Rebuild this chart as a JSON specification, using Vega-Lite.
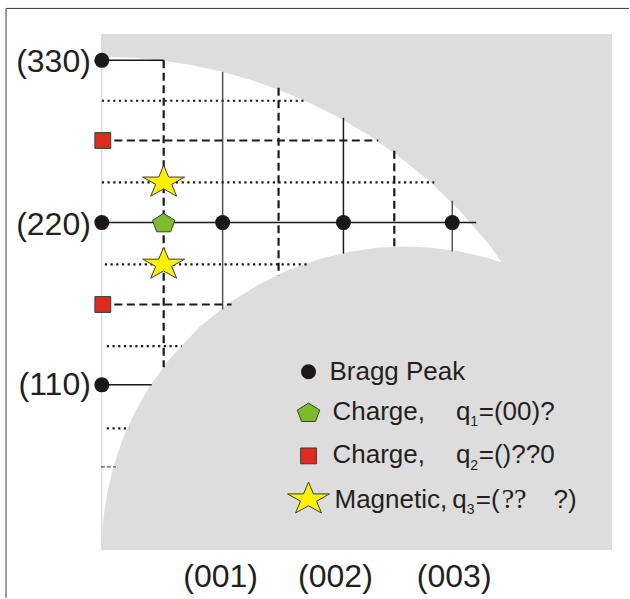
{
  "$schema": "https://vega.github.io/schema/vega-lite/v6.json",
  "width": 630,
  "height": 599,
  "autosize": {"type": "fit", "contains": "padding"},
  "padding": 0,
  "background": "white",
  "config": {"view": {"stroke": null}},
  "datasets": {
    "panel": [{"L": 0, "L2": 4.223, "H": -0.018, "H2": 3.163}],
    "outer": [
      {"L": 0, "H": 3.022}, {"L": 0.231, "H": 3.017}, {"L": 0.479, "H": 3.001}, {"L": 0.727, "H": 2.973},
      {"L": 0.975, "H": 2.934}, {"L": 1.223, "H": 2.882}, {"L": 1.471, "H": 2.817}, {"L": 1.719, "H": 2.739},
      {"L": 1.967, "H": 2.646}, {"L": 2.215, "H": 2.535}, {"L": 2.463, "H": 2.406}, {"L": 2.711, "H": 2.255},
      {"L": 2.959, "H": 2.076}, {"L": 3.207, "H": 1.863}, {"L": 3.455, "H": 1.602}, {"L": 3.702, "H": 1.263}
    ],
    "inner": [
      {"L": 0, "H": -0.018}, {"L": 0.008, "H": 0.133}, {"L": 0.025, "H": 0.244}, {"L": 0.05, "H": 0.351},
      {"L": 0.083, "H": 0.457}, {"L": 0.132, "H": 0.58}, {"L": 0.198, "H": 0.71}, {"L": 0.281, "H": 0.841},
      {"L": 0.397, "H": 0.991}, {"L": 0.562, "H": 1.161}, {"L": 0.81, "H": 1.358}, {"L": 1.058, "H": 1.507},
      {"L": 1.306, "H": 1.622}, {"L": 1.554, "H": 1.711}, {"L": 1.802, "H": 1.776}, {"L": 2.05, "H": 1.82},
      {"L": 2.298, "H": 1.846}, {"L": 2.512, "H": 1.852}, {"L": 2.711, "H": 1.847}, {"L": 2.959, "H": 1.823},
      {"L": 3.207, "H": 1.78}, {"L": 3.455, "H": 1.716}, {"L": 3.702, "H": 1.629}, {"L": 3.95, "H": 1.516},
      {"L": 4.223, "H": 1.351}
    ],
    "lines": [
      {"kind": "frame", "L": -0.793, "H": 3.32, "L2": 4.364, "H2": 3.32},
      {"kind": "frame", "L": -0.793, "H": 3.32, "L2": -0.793, "H2": -0.314},
      {"kind": "edge", "L": 0, "H": 3.163, "L2": 0, "H2": -0.018},
      {"kind": "solid", "L": 0, "H": 3.0, "L2": 0.512, "H2": 3.0},
      {"kind": "solid", "L": 0, "H": 2.0, "L2": 3.099, "H2": 2.0},
      {"kind": "solid", "L": 0, "H": 1.0, "L2": 0.413, "H2": 1.0},
      {"kind": "solid", "L": 2.0, "H": 2.646, "L2": 2.0, "H2": 1.809},
      {"kind": "solidGray", "L": 1.0, "H": 2.929, "L2": 1.0, "H2": 1.465},
      {"kind": "solidGray", "L": 2.901, "H": 2.135, "L2": 2.901, "H2": 1.822},
      {"kind": "dashed", "L": 0, "H": 2.506, "L2": 2.289, "H2": 2.506},
      {"kind": "dashed", "L": 0, "H": 1.495, "L2": 1.074, "H2": 1.495},
      {"kind": "dashed", "L": 0.512, "H": 3.0, "L2": 0.512, "H2": 1.108},
      {"kind": "dashed", "L": 1.463, "H": 2.831, "L2": 1.463, "H2": 1.674},
      {"kind": "dashed", "L": 2.421, "H": 2.443, "L2": 2.421, "H2": 1.846},
      {"kind": "dotted", "L": 0, "H": 2.751, "L2": 1.694, "H2": 2.751},
      {"kind": "dotted", "L": 0, "H": 2.248, "L2": 2.752, "H2": 2.248},
      {"kind": "dotted", "L": 0.025, "H": 1.742, "L2": 1.711, "H2": 1.742},
      {"kind": "dotted", "L": 0.041, "H": 1.239, "L2": 0.661, "H2": 1.239},
      {"kind": "dotted", "L": 0.041, "H": 0.732, "L2": 0.231, "H2": 0.732},
      {"kind": "fine", "L": -0.008, "H": 0.494, "L2": 0.116, "H2": 0.494}
    ],
    "markers": [
      {"kind": "Bragg", "L": 0, "H": 3.0},
      {"kind": "Bragg", "L": 0, "H": 2.0},
      {"kind": "Bragg", "L": 1.0, "H": 2.0},
      {"kind": "Bragg", "L": 2.0, "H": 2.0},
      {"kind": "Bragg", "L": 2.901, "H": 2.0},
      {"kind": "Bragg", "L": 0, "H": 1.0},
      {"kind": "Charge1", "L": 0.512, "H": 2.0},
      {"kind": "Charge2", "L": 0.008, "H": 2.506},
      {"kind": "Charge2", "L": 0.008, "H": 1.495},
      {"kind": "Magnetic", "L": 0.512, "H": 2.248},
      {"kind": "Magnetic", "L": 0.512, "H": 1.742},
      {"kind": "Bragg", "L": 1.711, "H": 1.081},
      {"kind": "Charge1", "L": 1.711, "H": 0.831},
      {"kind": "Charge2", "L": 1.711, "H": 0.562},
      {"kind": "Magnetic", "L": 1.711, "H": 0.295}
    ],
    "texts": [
      {"kind": "tickY", "text": "(330)", "L": -0.091, "H": 2.99},
      {"kind": "tickY", "text": "(220)", "L": -0.091, "H": 1.985},
      {"kind": "tickY", "text": "(110)", "L": -0.091, "H": 0.997},
      {"kind": "tickX", "text": "(001)", "L": 0.983, "H": -0.185},
      {"kind": "tickX", "text": "(002)", "L": 1.934, "H": -0.185},
      {"kind": "tickX", "text": "(003)", "L": 2.917, "H": -0.185},
      {"kind": "legend", "text": "Bragg Peak", "L": 1.884, "H": 1.077},
      {"kind": "legend", "text": "Charge,", "L": 1.909, "H": 0.834},
      {"kind": "legend", "text": "q", "L": 2.931, "H": 0.834},
      {"kind": "legend", "text": "=(00)?", "L": 3.12, "H": 0.834},
      {"kind": "legend", "text": "Charge,", "L": 1.909, "H": 0.566},
      {"kind": "legend", "text": "q", "L": 2.931, "H": 0.566},
      {"kind": "legend", "text": "=()??0", "L": 3.12, "H": 0.566},
      {"kind": "legend", "text": "Magnetic,", "L": 1.926, "H": 0.29},
      {"kind": "legend", "text": "q", "L": 2.9, "H": 0.29},
      {"kind": "legend", "text": "=(", "L": 3.095, "H": 0.29},
      {"kind": "legend", "text": "?)", "L": 3.74, "H": 0.29},
      {"kind": "serif", "text": "??", "L": 3.31, "H": 0.29},
      {"kind": "sub", "text": "1", "L": 3.05, "H": 0.77},
      {"kind": "sub", "text": "2", "L": 3.05, "H": 0.502},
      {"kind": "sub", "text": "3", "L": 3.02, "H": 0.226}
    ]
  },
  "encoding": {
    "x": {"field": "L", "type": "quantitative", "scale": {"domain": [-0.843, 4.364], "nice": false, "zero": false}, "axis": null},
    "y": {"field": "H", "type": "quantitative", "scale": {"domain": [-0.314, 3.372], "nice": false, "zero": false}, "axis": null}
  },
  "layer": [
    {
      "data": {"name": "panel"},
      "mark": {"type": "rect", "fill": "#dddddd"},
      "encoding": {"x2": {"field": "L2"}, "y2": {"field": "H2"}}
    },
    {
      "data": {"name": "outer"},
      "mark": {"type": "area", "fill": "#ffffff", "interpolate": "linear"},
      "encoding": {"y2": {"datum": -0.018}}
    },
    {
      "data": {"name": "inner"},
      "mark": {"type": "area", "fill": "#dddddd", "interpolate": "linear"},
      "encoding": {"y2": {"datum": -0.018}}
    },
    {
      "data": {"name": "lines"},
      "transform": [{"filter": "datum.kind === 'frame'"}],
      "mark": {"type": "rule", "stroke": "#3a3a3a", "strokeWidth": 1},
      "encoding": {"x2": {"field": "L2"}, "y2": {"field": "H2"}}
    },
    {
      "data": {"name": "lines"},
      "transform": [{"filter": "datum.kind === 'edge'"}],
      "mark": {"type": "rule", "stroke": "#d0d0d0", "strokeWidth": 1},
      "encoding": {"x2": {"field": "L2"}, "y2": {"field": "H2"}}
    },
    {
      "data": {"name": "lines"},
      "transform": [{"filter": "datum.kind === 'solid'"}],
      "mark": {"type": "rule", "stroke": "#1a1a1a", "strokeWidth": 1.5},
      "encoding": {"x2": {"field": "L2"}, "y2": {"field": "H2"}}
    },
    {
      "data": {"name": "lines"},
      "transform": [{"filter": "datum.kind === 'solidGray'"}],
      "mark": {"type": "rule", "stroke": "#555555", "strokeWidth": 1.5},
      "encoding": {"x2": {"field": "L2"}, "y2": {"field": "H2"}}
    },
    {
      "data": {"name": "lines"},
      "transform": [{"filter": "datum.kind === 'dashed'"}],
      "mark": {"type": "rule", "stroke": "#1a1a1a", "strokeWidth": 2.2, "strokeDash": [8, 4.5], "strokeCap": "butt"},
      "encoding": {"x2": {"field": "L2"}, "y2": {"field": "H2"}}
    },
    {
      "data": {"name": "lines"},
      "transform": [{"filter": "datum.kind === 'dotted'"}],
      "mark": {"type": "rule", "stroke": "#1a1a1a", "strokeWidth": 2.2, "strokeDash": [2.2, 3.5], "strokeCap": "butt"},
      "encoding": {"x2": {"field": "L2"}, "y2": {"field": "H2"}}
    },
    {
      "data": {"name": "lines"},
      "transform": [{"filter": "datum.kind === 'fine'"}],
      "mark": {"type": "rule", "stroke": "#333333", "strokeWidth": 1, "strokeDash": [4, 2], "strokeCap": "butt"},
      "encoding": {"x2": {"field": "L2"}, "y2": {"field": "H2"}}
    },
    {
      "data": {"name": "markers"},
      "transform": [{"filter": "datum.kind === 'Bragg'"}],
      "mark": {"type": "point", "shape": "circle", "size": 225, "filled": true, "opacity": 1, "fill": "#1c1819", "strokeWidth": 0}
    },
    {
      "data": {"name": "markers"},
      "transform": [{"filter": "datum.kind === 'Charge1'"}],
      "mark": {"type": "point", "shape": "M0,-0.78L0.951,-0.18L0.588,0.78L-0.588,0.78L-0.951,-0.18Z", "size": 560, "filled": true, "opacity": 1, "fill": "#7cbb2c", "stroke": "#3c3c3c", "strokeWidth": 1}
    },
    {
      "data": {"name": "markers"},
      "transform": [{"filter": "datum.kind === 'Charge2'"}],
      "mark": {"type": "point", "shape": "square", "size": 250, "filled": true, "opacity": 1, "fill": "#dc2b1f", "stroke": "#3c3c3c", "strokeWidth": 1}
    },
    {
      "data": {"name": "markers"},
      "transform": [{"filter": "datum.kind === 'Magnetic'"}],
      "mark": {"type": "point", "shape": "M0,-0.774L0.225,-0.239L0.951,-0.239L0.363,0.091L0.588,0.626L0,0.296L-0.588,0.626L-0.363,0.091L-0.951,-0.239L-0.225,-0.239Z", "size": 1950, "filled": true, "opacity": 1, "fill": "#fff200", "stroke": "#3c3c3c", "strokeWidth": 1}
    },
    {
      "data": {"name": "texts"},
      "transform": [{"filter": "datum.kind === 'tickY'"}],
      "mark": {"type": "text", "align": "right", "baseline": "middle", "font": "Liberation Sans", "fontSize": 32, "color": "#231f20"},
      "encoding": {"text": {"field": "text"}}
    },
    {
      "data": {"name": "texts"},
      "transform": [{"filter": "datum.kind === 'tickX'"}],
      "mark": {"type": "text", "align": "center", "baseline": "middle", "font": "Liberation Sans", "fontSize": 32, "color": "#231f20"},
      "encoding": {"text": {"field": "text"}}
    },
    {
      "data": {"name": "texts"},
      "transform": [{"filter": "datum.kind === 'legend'"}],
      "mark": {"type": "text", "align": "left", "baseline": "middle", "font": "Liberation Sans", "fontSize": 26, "color": "#231f20"},
      "encoding": {"text": {"field": "text"}}
    },
    {
      "data": {"name": "texts"},
      "transform": [{"filter": "datum.kind === 'serif'"}],
      "mark": {"type": "text", "align": "left", "baseline": "middle", "font": "Liberation Serif", "fontSize": 28, "color": "#231f20"},
      "encoding": {"text": {"field": "text"}}
    },
    {
      "data": {"name": "texts"},
      "transform": [{"filter": "datum.kind === 'sub'"}],
      "mark": {"type": "text", "align": "left", "baseline": "middle", "font": "Liberation Sans", "fontSize": 14, "color": "#231f20"},
      "encoding": {"text": {"field": "text"}}
    }
  ]
}
